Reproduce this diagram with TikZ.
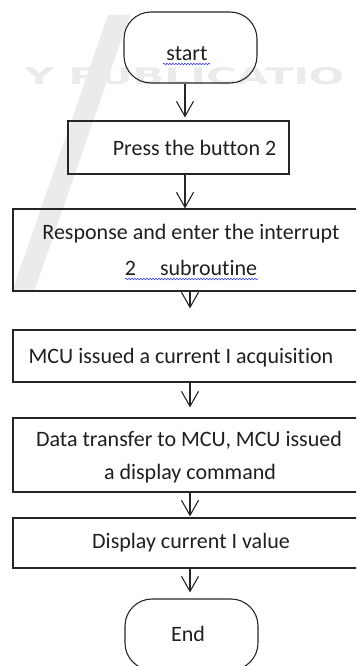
\documentclass[tikz,border=0pt]{standalone}
\usepackage{fontspec}
\setmainfont{Carlito}[Ligatures={NoCommon},RawFeature={-liga}]
\newfontfamily\wmfont{DejaVu Sans}
\usetikzlibrary{arrows.meta,decorations.pathmorphing}
\begin{document}
\begin{tikzpicture}[x=1pt,y=-1pt,
  box/.style={draw=black!85,line width=1.1pt,inner sep=0pt},
  term/.style={box,rounded corners=27pt},
  txt/.style={text=black!88,font=\fontsize{22}{26}\selectfont,inner sep=0pt,anchor=base},
  arr/.style={draw=black!85,line width=1.1pt,-{Straight Barb[length=15pt,width=17pt,line width=1.1pt]}},
  squig/.style={draw=blue!75,line width=0.6pt,decorate,decoration={snake,amplitude=0.8pt,segment length=3pt}},
  wm/.style={fill=black!8,draw=none}]
\useasboundingbox (0,0) rectangle (356,666);
\clip (0,0) rectangle (356,666);
% faint watermark
\fill[wm] (108,15) -- (130,15) -- (34,292) -- (12,292) -- cycle;
\node[text=black!8,font=\wmfont\bfseries\fontsize{23}{23}\selectfont,inner sep=0pt,anchor=base west,xscale=1.8] (wmtext) at (24,85) {Y PUBLICATIO};
% boxes
\node[term,minimum width=133pt,minimum height=71pt] (start) at (190.5,47.5) {};
\node[box,minimum width=221pt,minimum height=53pt] (b2) at (178.5,147.5) {};
\node[box,minimum width=356pt,minimum height=82pt] (b3) at (191,250) {};
\node[box,minimum width=356pt,minimum height=52pt] (b4) at (191,356) {};
\node[box,minimum width=356pt,minimum height=74pt] (b5) at (191,455) {};
\node[box,minimum width=356pt,minimum height=50pt] (b6) at (191,543) {};
\node[term,minimum width=133pt,minimum height=71pt] (end) at (191.5,634.5) {};
% texts
\node[txt] (tstart) at (187,61) {start};
\node[txt] (t2) at (194.5,155) {Press the button 2};
\node[txt] (t3a) at (191,239) {Response and enter the interrupt};
\node[txt] (t3b) at (191,275) {2\hspace{24pt}subroutine};
\node[txt] (t4) at (181,363) {MCU issued a current I acquisition};
\node[txt] (t5a) at (189,446) {Data transfer to MCU, MCU issued};
\node[txt] (t5b) at (190,479) {a display command};
\node[txt] (t6) at (191,548) {Display current I value};
\node[txt] (tend) at (188,641) {End};
% spell-check squiggles
\coordinate (sqa1) at (163,64);
\coordinate (sqa2) at (210,64);
\coordinate (sqb1) at (125,279);
\coordinate (sqb2) at (258,279);
\draw[squig] (sqa1) -- (sqa2);
\draw[squig] (sqb1) -- (sqb2);
% connectors
\coordinate (cA) at (185,0);
\coordinate (cB) at (190,0);
\draw[arr,shorten >=3pt] (start.south -| cA) -- (b2.north -| cA);
\draw[arr] (b2.south -| cA) -- (b3.north -| cA);
\draw[arr,shorten >=21pt] (b3.south -| cB) -- (b4.north -| cB);
\draw[arr,shorten >=10pt] (b4.south -| cB) -- (b5.north -| cB);
\draw[arr,shorten >=1pt] (b5.south -| cB) -- (b6.north -| cB);
\draw[arr,shorten >=6pt] (b6.south -| cB) -- (end.north -| cB);
\end{tikzpicture}
\end{document}
